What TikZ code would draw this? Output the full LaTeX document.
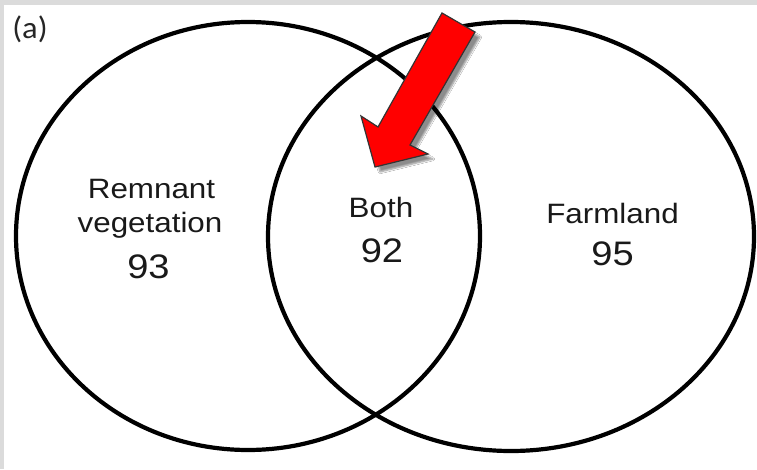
\documentclass[tikz,border=0pt]{standalone}
\usepackage{fontspec}
\usetikzlibrary{shadows.blur}
\newfontfamily\labfont[FakeStretch=1.12]{Liberation Sans}
\newfontfamily\tagfont[FakeStretch=1.05]{Carlito}
\tikzset{
  venn/.style={line width=4.2pt, draw=black},
  lab/.style={anchor=base, inner sep=0pt, text=black!90, font=\labfont\fontsize{28}{34}\selectfont},
  num/.style={anchor=base, inner sep=0pt, text=black!90, font=\labfont\fontsize{34}{40}\selectfont},
  pointer/.style={fill=red, draw=black!80, line width=1.2pt, line join=miter,
    blur shadow={shadow xshift=5pt, shadow yshift=-5pt, shadow blur steps=6, shadow opacity=45}},
}
\begin{document}
\begin{tikzpicture}[x=1pt, y=-1pt]
  \useasboundingbox (0,0) rectangle (757,469);
  \fill[gray!28] (0,0) rectangle (757,469);
  \fill[white] (4,5) rectangle (757,469);
  % circles
  \draw[venn] (248,236) ellipse [x radius=232pt, y radius=214pt];
  \draw[venn] (511,236.5) ellipse [x radius=243pt, y radius=214.5pt];
  % panel tag
  \node[anchor=base, inner sep=0pt, text=black!85, font=\tagfont\fontsize{31}{34}\selectfont] (tag) at (30,38) {(a)};
  % labels
  \node[lab] (remnant) at (151.5,198) {Remnant};
  \node[lab] (veg) at (150,232) {vegetation};
  \node[num] (n93) at (148.5,278) {93};
  \node[lab] (both) at (381,217) {Both};
  \node[num] (n92) at (382,262) {92};
  \node[lab] (farm) at (612.5,223) {Farmland};
  \node[num] (n95) at (612.5,265) {95};
  % red arrow
  \draw[pointer] (442,13) -- (475,32) -- (410,145) -- (428,154) -- (375,167) -- (361,116) -- (378,127) -- cycle;
\end{tikzpicture}
\end{document}
